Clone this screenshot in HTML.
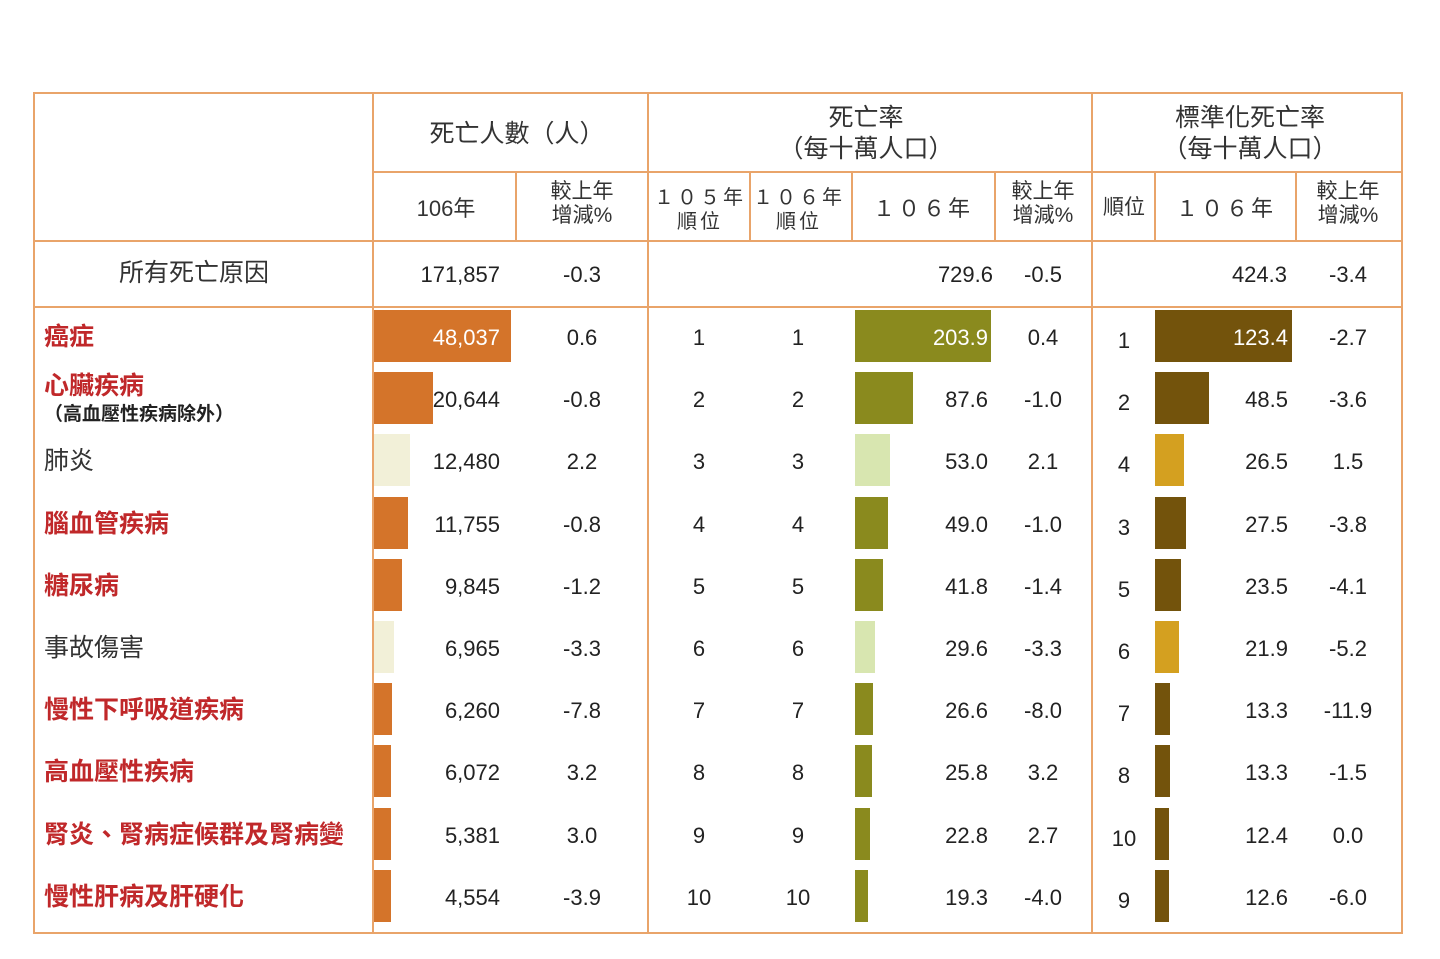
<!DOCTYPE html>
<html><head><meta charset="utf-8"><style>
body{margin:0;width:1440px;height:959px;background:#fff;position:relative;font-family:"Liberation Sans","Noto Sans CJK TC",sans-serif;color:#222;overflow:hidden}
.l{position:absolute;background:#e9a46a}
.t{position:absolute;font-size:22px;line-height:26px;white-space:nowrap}
.c{transform:translateX(-50%);text-align:center}
.r{transform:translateX(-100%)}
.b{position:absolute;height:52px}
.red{color:#c0282a;font-weight:bold;font-size:25px}
.h{font-size:22px;line-height:26px;color:#333}
.s{font-size:20px;line-height:24px;color:#333}
</style></head><body>
<div class="l" style="left:33px;top:92px;width:1370px;height:2px"></div>
<div class="l" style="left:33px;top:932px;width:1370px;height:2px"></div>
<div class="l" style="left:33px;top:92px;width:2px;height:842px"></div>
<div class="l" style="left:1401px;top:92px;width:2px;height:842px"></div>
<div class="l" style="left:372px;top:92px;width:2px;height:842px"></div>
<div class="l" style="left:647px;top:92px;width:2px;height:842px"></div>
<div class="l" style="left:1091px;top:92px;width:2px;height:842px"></div>
<div class="l" style="left:372px;top:171px;width:1030px;height:2px"></div>
<div class="l" style="left:33px;top:240px;width:1370px;height:2px"></div>
<div class="l" style="left:33px;top:306px;width:1370px;height:2px"></div>
<div class="l" style="left:515px;top:172px;width:2px;height:69px"></div>
<div class="l" style="left:749px;top:172px;width:2px;height:69px"></div>
<div class="l" style="left:851px;top:172px;width:2px;height:69px"></div>
<div class="l" style="left:994px;top:172px;width:2px;height:69px"></div>
<div class="l" style="left:1154px;top:172px;width:2px;height:69px"></div>
<div class="l" style="left:1295px;top:172px;width:2px;height:69px"></div>

<div class="t c h" style="left:517px;top:121px;font-size:25px">死亡人數（人）</div>
<div class="t c h" style="left:866px;top:103px;font-size:25px;line-height:31px">死亡率<br>（每十萬人口）</div>
<div class="t c h" style="left:1250px;top:103px;font-size:25px;line-height:31px">標準化死亡率<br>（每十萬人口）</div>
<div class="t c h" style="left:446px;top:196px">106年</div>
<div class="t c s" style="left:582px;top:180px;font-size:21px">較上年<br>增減%</div>
<div class="t c s" style="left:700px;top:186px;letter-spacing:3px">１０５年<br>順位</div>
<div class="t c s" style="left:799px;top:186px;letter-spacing:3px">１０６年<br>順位</div>
<div class="t c h" style="left:923px;top:196px;letter-spacing:3px">１０６年</div>
<div class="t c s" style="left:1043px;top:180px;font-size:21px">較上年<br>增減%</div>
<div class="t c s" style="left:1124px;top:196px;font-size:21px">順位</div>
<div class="t c h" style="left:1226px;top:196px;letter-spacing:3px">１０６年</div>
<div class="t c s" style="left:1348px;top:180px;font-size:21px">較上年<br>增減%</div>

<div class="t c h" style="left:194px;top:260px;font-size:25px">所有死亡原因</div>
<div class="t r" style="left:500px;top:262px">171,857</div>
<div class="t c" style="left:582px;top:262px">-0.3</div>
<div class="t r" style="left:993px;top:262px">729.6</div>
<div class="t c" style="left:1043px;top:262px">-0.5</div>
<div class="t r" style="left:1287px;top:262px">424.3</div>
<div class="t c" style="left:1348px;top:262px">-3.4</div>

<div id="rows"></div>
<script>
var d=[
["癌症",1,48037,"48,037","0.6",1,1,203.9,"203.9","0.4",1,123.4,"123.4","-2.7",0],
["心臟疾病",1,20644,"20,644","-0.8",2,2,87.6,"87.6","-1.0",2,48.5,"48.5","-3.6",0],
["肺炎",0,12480,"12,480","2.2",3,3,53.0,"53.0","2.1",4,26.5,"26.5","1.5",1],
["腦血管疾病",1,11755,"11,755","-0.8",4,4,49.0,"49.0","-1.0",3,27.5,"27.5","-3.8",0],
["糖尿病",1,9845,"9,845","-1.2",5,5,41.8,"41.8","-1.4",5,23.5,"23.5","-4.1",0],
["事故傷害",0,6965,"6,965","-3.3",6,6,29.6,"29.6","-3.3",6,21.9,"21.9","-5.2",1],
["慢性下呼吸道疾病",1,6260,"6,260","-7.8",7,7,26.6,"26.6","-8.0",7,13.3,"13.3","-11.9",0],
["高血壓性疾病",1,6072,"6,072","3.2",8,8,25.8,"25.8","3.2",8,13.3,"13.3","-1.5",0],
["腎炎、腎病症候群及腎病變",1,5381,"5,381","3.0",9,9,22.8,"22.8","2.7",10,12.4,"12.4","0.0",0],
["慢性肝病及肝硬化",1,4554,"4,554","-3.9",10,10,19.3,"19.3","-4.0",9,12.6,"12.6","-6.0",0]];
var h="";
d.forEach(function(r,i){
 var y=310+i*62.2, ty=y+15;
 var lt=r[14];
 h+='<div class="b" style="left:374px;top:'+y+'px;width:'+Math.max(17,r[2]*0.00285)+'px;background:'+(lt?'#f2f0d8':'#d4742a')+'"></div>';
 h+='<div class="b" style="left:855px;top:'+y+'px;width:'+Math.max(11,r[7]*0.667)+'px;background:'+(lt?'#d8e6b0':'#8a8a1e')+'"></div>';
 h+='<div class="b" style="left:1155px;top:'+y+'px;width:'+Math.max(14,r[11]*1.11)+'px;background:'+(lt?'#d4a020':'#73530c')+'"></div>';
 var lab=r[0];
 if(i==1){h+='<div class="t red" style="left:44px;top:'+(y+1)+'px">心臟疾病</div><div class="t" style="left:44px;top:'+(y+30)+'px;font-size:19px;font-weight:bold">（高血壓性疾病除外）</div>';}
 else h+='<div class="t'+(r[1]?' red':'')+'" style="left:44px;top:'+(ty-1)+'px;'+(r[1]?'':'font-size:25px;color:#333')+'">'+lab+'</div>';
 h+='<div class="t r" style="left:500px;top:'+ty+'px;color:'+(i==0?'#fff':'#222')+'">'+r[3]+'</div>';
 h+='<div class="t c" style="left:582px;top:'+ty+'px">'+r[4]+'</div>';
 h+='<div class="t c" style="left:699px;top:'+ty+'px">'+r[5]+'</div>';
 h+='<div class="t c" style="left:798px;top:'+ty+'px">'+r[6]+'</div>';
 h+='<div class="t r" style="left:988px;top:'+ty+'px;color:'+(i==0?'#fff':'#222')+'">'+r[8]+'</div>';
 h+='<div class="t c" style="left:1043px;top:'+ty+'px">'+r[9]+'</div>';
 h+='<div class="t c" style="left:1124px;top:'+(ty+3)+'px">'+r[10]+'</div>';
 h+='<div class="t r" style="left:1288px;top:'+ty+'px;color:'+(i==0?'#fff':'#222')+'">'+r[12]+'</div>';
 h+='<div class="t c" style="left:1348px;top:'+ty+'px">'+r[13]+'</div>';
});
document.getElementById('rows').innerHTML=h;
</script>
</body></html>
